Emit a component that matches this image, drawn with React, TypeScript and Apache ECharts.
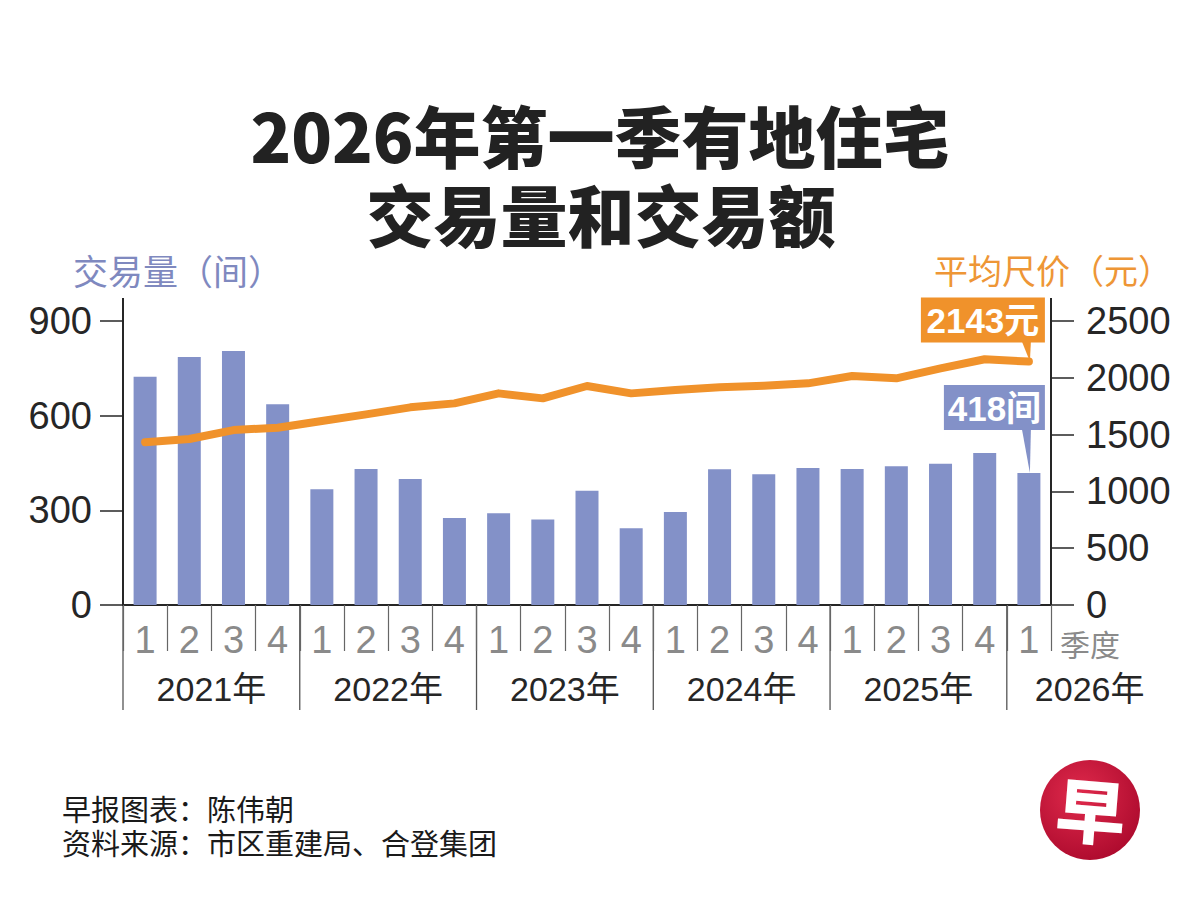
import React, { useEffect, useRef } from "react";
import * as echarts from "echarts";

// ---- data ----
const categories = [
  "2021Q1", "2021Q2", "2021Q3", "2021Q4",
  "2022Q1", "2022Q2", "2022Q3", "2022Q4",
  "2023Q1", "2023Q2", "2023Q3", "2023Q4",
  "2024Q1", "2024Q2", "2024Q3", "2024Q4",
  "2025Q1", "2025Q2", "2025Q3", "2025Q4",
  "2026Q1",
];
const years = ["2021年", "2022年", "2023年", "2024年", "2025年", "2026年"];
const yearStartIndex = [0, 4, 8, 12, 16, 20];
const volume = [723, 786, 805, 636, 367, 431, 399, 276, 291, 271, 362, 243, 295, 430, 414, 434, 431, 440, 448, 482, 418];
const price = [1432, 1461, 1540, 1561, 1620, 1678, 1740, 1775, 1863, 1819, 1928, 1863, 1893, 1916, 1930, 1951, 2016, 1995, 2083, 2163, 2143];
const volumeAxis = { min: 0, max: 900, interval: 300 };
const priceAxis = { min: 0, max: 2500, interval: 500 };
const titleLines = ["2026年第一季有地住宅", "交易量和交易额"];
const leftName = "交易量（间）";
const rightName = "平均尺价（元）";
const quarterName = "季度";
const footerLines = ["早报图表：陈伟朝", "资料来源：市区重建局、合登集团"];

const BAR = "#8391C8";
const ORANGE = "#F0922B";
const DARK = "#262626";
const GRAY = "#8a8a8a";
const NUM = '"Liberation Sans", "Noto Sans CJK SC", sans-serif';
const CJK = '"Noto Sans CJK SC", "Liberation Sans", sans-serif';

export default function App() {
  const ref = useRef<HTMLDivElement>(null);
  useEffect(() => {
    if (!ref.current) return;
    const chart = echarts.init(ref.current, null, { renderer: "svg" });
    chart.setOption({
      animation: false,
      backgroundColor: "#ffffff",
      grid: { left: 123, right: 149, top: 321, bottom: 315, containLabel: false },
      xAxis: {
        type: "category",
        data: categories,
        boundaryGap: true,
        axisLine: { show: true, lineStyle: { color: DARK, width: 2 } },
        axisTick: { show: true, interval: 0, length: 46, lineStyle: { color: "#666", width: 1.2 } },
        axisLabel: {
          interval: 0,
          color: GRAY,
          fontSize: 38,
          lineHeight: 38,
          fontFamily: NUM,
          margin: 16,
          formatter: (v: string) => v.split("Q")[1],
        },
        splitLine: { show: false },
      },
      yAxis: [
        {
          type: "value",
          position: "left",
          ...volumeAxis,
          axisLine: { show: true, lineStyle: { color: DARK, width: 2 } },
          axisTick: { show: true, length: 23, lineStyle: { color: DARK, width: 1.5 } },
          axisLabel: { color: DARK, fontSize: 38, lineHeight: 38, fontFamily: NUM, margin: 31, formatter: (v: number) => String(v) },
          splitLine: { show: false },
        },
        {
          type: "value",
          position: "right",
          ...priceAxis,
          axisLine: { show: true, lineStyle: { color: DARK, width: 2 } },
          axisTick: { show: true, length: 23, lineStyle: { color: DARK, width: 1.5 } },
          axisLabel: { color: DARK, fontSize: 38, lineHeight: 38, fontFamily: NUM, margin: 35, formatter: (v: number) => String(v) },
          splitLine: { show: false },
        },
      ],
      series: [
        {
          type: "bar",
          data: volume,
          yAxisIndex: 0,
          barWidth: 23,
          itemStyle: { color: BAR },
          z: 2,
        },
        {
          type: "line",
          data: price,
          yAxisIndex: 1,
          symbol: "none",
          lineStyle: { color: ORANGE, width: 8, cap: "round", join: "round" },
          z: 3,
        },
      ],
    });

    const cx = (i: number) => chart.convertToPixel({ xAxisIndex: 0 }, i) as number;
    const yv = (v: number) => chart.convertToPixel({ yAxisIndex: 0 }, v) as number;
    const yp = (v: number) => chart.convertToPixel({ yAxisIndex: 1 }, v) as number;
    const step = cx(1) - cx(0);
    const leftX = cx(0) - step / 2;
    const rightX = cx(categories.length - 1) + step / 2;
    const y0 = yv(0);
    const yTop = yv(volumeAxis.max);
    const last = categories.length - 1;

    const g: any[] = [];
    // title
    g.push({
      type: "text", x: 600, y: 133,
      style: { text: titleLines[0], fontSize: 67, lineHeight: 68, fontWeight: 900, fontFamily: CJK, fill: "#222", align: "center", verticalAlign: "middle" },
    });
    g.push({
      type: "text", x: 601, y: 212,
      style: { text: titleLines[1], fontSize: 67, lineHeight: 68, fontWeight: 900, fontFamily: CJK, fill: "#222", align: "center", verticalAlign: "middle" },
    });
    // axis names
    g.push({
      type: "text", x: 73, y: 269,
      style: { text: leftName, fontSize: 35, lineHeight: 35, fontFamily: CJK, fill: "#7F89BF", align: "left", verticalAlign: "middle" },
    });
    g.push({
      type: "text", x: 934, y: 269,
      style: { text: rightName, fontSize: 34, lineHeight: 34, fontFamily: CJK, fill: "#EE9636", align: "left", verticalAlign: "middle" },
    });
    // axis line extensions above top tick
    [leftX, rightX].forEach((x) => {
      g.push({ type: "line", shape: { x1: x, y1: yTop - 23, x2: x, y2: yTop }, style: { stroke: DARK, lineWidth: 2 } });
    });
    // year dividers and labels
    yearStartIndex.forEach((s, k) => {
      const bx = cx(s) - step / 2;
      g.push({ type: "line", shape: { x1: bx, y1: y0, x2: bx, y2: y0 + 105 }, style: { stroke: "#555", lineWidth: 1.3 } });
      const end = k + 1 < yearStartIndex.length ? yearStartIndex[k + 1] : categories.length;
      const count = end - s;
      const isPartial = count < 4;
      g.push({
        type: "text",
        x: isPartial ? bx + 28 : bx + (count * step) / 2,
        y: y0 + 84,
        style: { text: years[k], fontSize: 34, lineHeight: 34, fontFamily: NUM, fill: DARK, align: isPartial ? "left" : "center", verticalAlign: "middle" },
      });
    });
    // quarter label
    g.push({
      type: "text", x: rightX + 9, y: y0 + 38,
      style: { text: quarterName, fontSize: 30, lineHeight: 30, fontFamily: CJK, fill: GRAY, align: "left", verticalAlign: "middle" },
    });
    // callouts
    const px = cx(last);
    const pyPrice = yp(price[last]);
    const pyVol = yv(volume[last]);
    const boxRight = px + 16;
    const addCallout = (text: string, color: string, width: number, bottom: number, tipY: number) => {
      g.push({ type: "rect", shape: { x: boxRight - width, y: bottom - 45, width, height: 45 }, style: { fill: color }, z: 10 });
      g.push({ type: "polygon", shape: { points: [[px - 7, bottom - 1], [px + 2, bottom - 1], [px + 1, tipY]] }, style: { fill: color }, z: 10 });
      g.push({
        type: "text", x: boxRight - width / 2, y: bottom - 22, z: 11,
        style: { text, fontSize: 35, lineHeight: 36, fontWeight: "bold", fontFamily: NUM, fill: "#fff", align: "center", verticalAlign: "middle" },
      });
    };
    addCallout(`${price[last]}元`, ORANGE, 124, pyPrice - 19, pyPrice);
    addCallout(`${volume[last]}间`, BAR, 101, pyVol - 43, pyVol);
    // footer
    footerLines.forEach((t, i) => {
      g.push({
        type: "text", x: 62, y: 808 + i * 34,
        style: { text: t, fontSize: 29, lineHeight: 30, fontFamily: CJK, fill: "#1a1a1a", align: "left", verticalAlign: "middle" },
      });
    });
    // logo
    g.push({
      type: "circle", shape: { cx: 1090, cy: 810, r: 50 },
      style: {
        fill: new echarts.graphic.RadialGradient(0.4, 0.35, 0.75, [
          { offset: 0, color: "#e02a4c" },
          { offset: 1, color: "#a9082b" },
        ]),
      },
    });
    g.push({
      type: "text", x: 1091, y: 808, rotation: -0.08,
      style: { text: "早", fontSize: 70, lineHeight: 70, fontWeight: 900, fontFamily: CJK, fill: "#fff", align: "center", verticalAlign: "middle" },
    });

    chart.setOption({ graphic: g });
    return () => chart.dispose();
  }, []);
  return (
    <div
      ref={ref}
      style={{ position: "fixed", left: 0, top: 0, width: 1200, height: 920, background: "#fff" }}
    />
  );
}
